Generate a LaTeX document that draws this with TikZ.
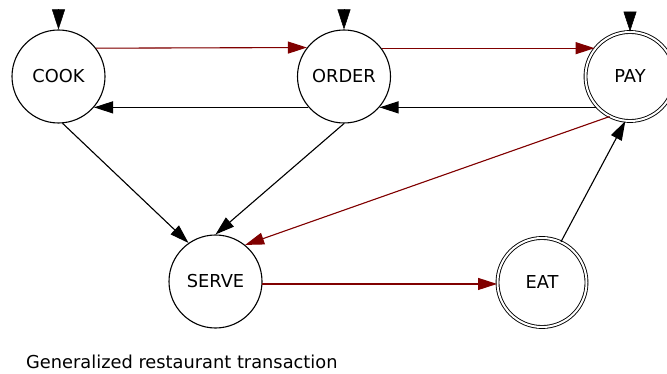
\documentclass[tikz,border=0pt]{standalone}
\usepackage{fontspec}
\setmainfont{DejaVu Sans}
\usetikzlibrary{arrows.meta}
\definecolor{dred}{RGB}{128,0,0}
\begin{document}
\begin{tikzpicture}[x=1pt,y=-1pt,
  state/.style={circle,draw,line width=1.1pt,minimum size=93pt,inner sep=0pt,font=\fontsize{17.8}{20}\selectfont},
  accept/.style={state,double,double distance=2pt,line width=0.9pt,minimum size=89pt},
  tr/.style={line width=1.1pt,-{Triangle[length=19pt,width=12pt]}},
  red/.style={tr,draw=dred,fill=dred},
  blk/.style={tr,draw=black,fill=black},
  init/.style={-{Triangle[length=20pt,width=13pt]},line width=0.5pt}]
\useasboundingbox (0,0) rectangle (667,374);
\node[state] (cook) at (58.5,76.5) {COOK};
\node[state] (order) at (344,76.5) {ORDER};
\node[accept] (pay) at (630,76.5) {PAY};
\node[state] (serve) at (215.5,281.5) {SERVE};
\node[accept] (eat) at (542,282.5) {EAT};
\coordinate (icook) at ([yshift=20pt]cook.north);
\coordinate (iorder) at ([yshift=20pt]order.north);
\coordinate (ipay) at ([yshift=20pt]pay.north);
\draw[init] (icook) -- (cook.north);
\draw[init] (iorder) -- (order.north);
\draw[init] (ipay) -- (pay.north);
\draw[red] (cook.37.8) -- (order.142.2);
\draw[red] (order.37.8) -- (pay.142.2 |- order.37.8);
\draw[blk] (order.-139) -- (cook.-41);
\draw[blk] (pay.-139 |- order.-41) -- (order.-41);
\draw[blk] (cook.-85) -- (serve.125);
\draw[blk] (order.-90) -- (serve.90);
\draw[red] (pay.-117) -- (serve.51);
\draw[red] (serve.-3) -- (eat.west |- serve.-3);
\draw[blk] (eat.65) -- (pay.-96);
\node[anchor=base west,font=\fontsize{17.8}{20}\selectfont,inner sep=0pt] (cap) at (26,368) {Generalized restaurant transaction};
\end{tikzpicture}
\end{document}
